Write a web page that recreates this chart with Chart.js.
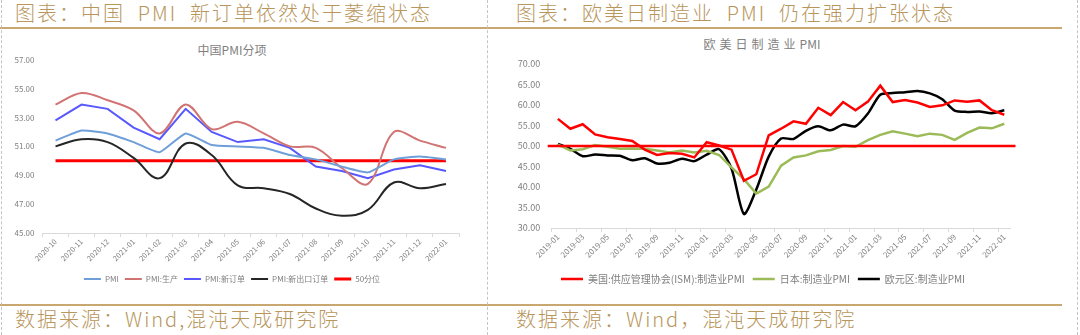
<!DOCTYPE html>
<html>
<head>
<meta charset="utf-8">
<script src="https://cdn.jsdelivr.net/npm/chart.js@4.4.0/dist/chart.umd.min.js"></script>
<style>
  body { margin: 0; width: 1080px; height: 335px; background: #fff; position: relative; overflow: hidden;
         font-family: "Noto Sans CJK SC", sans-serif; }
  .hd { position: absolute; color: #B8965C; font-size: 20px; line-height: 26px; letter-spacing: 2px;
        white-space: pre; font-weight: 300; }
  .gold { position: absolute; left: 0; width: 1062px; height: 2px; background: #C9A771; }
  .dash { position: absolute; top: 0; height: 335px; border-left: 1px dashed #C4C4C4; }
  .ttl { position: absolute; color: #7F7F7F; font-size: 12px; line-height: 14px; white-space: nowrap;
         transform: translate(-50%, -50%); }
  .box { position: absolute; top: 47px; }
</style>
</head>
<body>
<div class="hd" style="left:15px;top:0">图表：中国  PMI  新订单依然处于萎缩状态</div>
<div class="hd" style="left:516px;top:0">图表：欧美日制造业  PMI  仍在强力扩张状态</div>
<div class="gold" style="top:27px"></div>
<div class="gold" style="top:304px"></div>
<div class="hd" style="left:15px;top:306px">数据来源：Wind,混沌天成研究院</div>
<div class="hd" style="left:516px;top:306px">数据来源：Wind，混沌天成研究院</div>
<div class="dash" style="left:1px"></div>
<div class="dash" style="left:487px"></div>
<div class="dash" style="left:1077px"></div>
<div class="ttl" style="left:232px;top:50px">中国PMI分项</div>
<div class="ttl" style="left:762px;top:44px"><span style="letter-spacing:4px">欧美日制造业</span>PMI</div>

<div class="box" style="left:0;width:487px;height:246px"><canvas id="chartCn"></canvas></div>
<div class="box" style="left:487px;width:593px;height:247px"><canvas id="chartWorld"></canvas></div>

<script>
// 中国PMI分项
const cnMonths = ['2020-10', '2020-11', '2020-12', '2021-01', '2021-02', '2021-03', '2021-04', '2021-05',
                  '2021-06', '2021-07', '2021-08', '2021-09', '2021-10', '2021-11', '2021-12', '2022-01'];
const cnPmi      = [51.4, 52.1, 51.9, 51.3, 50.6, 51.9, 51.1, 51.0, 50.9, 50.4, 50.1, 49.6, 49.2, 50.1, 50.3, 50.1];
const cnProd     = [53.9, 54.7, 54.2, 53.5, 51.9, 53.9, 52.2, 52.7, 51.9, 51.0, 50.9, 49.5, 48.4, 52.0, 51.4, 50.9];
const cnNewOrder = [52.8, 53.9, 53.6, 52.3, 51.5, 53.6, 52.0, 51.3, 51.5, 50.9, 49.6, 49.3, 48.8, 49.4, 49.7, 49.3];
const cnExport   = [51.0, 51.5, 51.3, 50.2, 48.8, 51.2, 50.4, 48.3, 48.1, 47.7, 46.7, 46.2, 46.6, 48.5, 48.1, 48.4];
const cnLine50 = 50;

// 欧美日制造业PMI
const wMonths = ['2019-01', '2019-02', '2019-03', '2019-04', '2019-05', '2019-06', '2019-07', '2019-08', '2019-09',
                 '2019-10', '2019-11', '2019-12', '2020-01', '2020-02', '2020-03', '2020-04', '2020-05', '2020-06',
                 '2020-07', '2020-08', '2020-09', '2020-10', '2020-11', '2020-12', '2021-01', '2021-02', '2021-03',
                 '2021-04', '2021-05', '2021-06', '2021-07', '2021-08', '2021-09', '2021-10', '2021-11', '2021-12',
                 '2022-01'];
const usIsm = [56.6, 54.2, 55.3, 52.8, 52.1, 51.7, 51.2, 49.1, 47.8, 48.3, 48.1, 47.2, 50.9, 50.1, 49.1, 41.5, 43.1,
               52.6, 54.2, 56.0, 55.4, 59.3, 57.5, 60.7, 58.7, 60.8, 64.7, 60.7, 61.2, 60.6, 59.5, 59.9, 61.1, 60.8,
               61.1, 58.7, 57.6];
const jpPmi = [50.3, 48.9, 49.2, 50.2, 49.8, 49.3, 49.4, 49.3, 48.9, 48.4, 48.9, 48.4, 48.8, 47.8, 44.8, 41.9, 38.4,
               40.1, 45.2, 47.2, 47.7, 48.7, 49.0, 50.0, 49.8, 51.4, 52.7, 53.6, 53.0, 52.4, 53.0, 52.7, 51.5, 53.2,
               54.5, 54.3, 55.4];
const euPmi = [50.5, 49.3, 47.5, 47.9, 47.7, 47.6, 46.5, 47.0, 45.7, 45.9, 46.9, 46.3, 47.9, 49.2, 44.5, 33.4, 39.4,
               47.4, 51.8, 51.7, 53.7, 54.8, 53.8, 55.2, 54.8, 57.9, 62.5, 62.9, 63.1, 63.4, 62.8, 61.4, 58.6, 58.3,
               58.4, 58.0, 58.7];
const wLine50 = 50;

Chart.defaults.font.family = '"Noto Sans CJK SC", sans-serif';
Chart.defaults.color = '#7F7F7F';
Chart.defaults.animation = false;

const ctxCn = document.getElementById('chartCn').getContext('2d');
const chartCn = new Chart(ctxCn, {
    type: 'line',
    data: {
        labels: cnMonths,
        datasets: [
            { label: 'PMI', data: cnPmi, borderColor: '#6F9FD8', borderWidth: 2, tension: 0.15 },
            { label: 'PMI:生产', data: cnProd, borderColor: '#D27373', borderWidth: 2, tension: 0.35 },
            { label: 'PMI:新订单', data: cnNewOrder, borderColor: '#5858FF', borderWidth: 2, tension: 0 },
            { label: 'PMI:新出口订单', data: cnExport, borderColor: '#262626', borderWidth: 2, tension: 0.4 },
            { label: '50分位', data: cnMonths.map(() => cnLine50), borderColor: '#FF0000', borderWidth: 3 }
        ]
    },
    options: {
        responsive: true,
        maintainAspectRatio: false,
        layout: { autoPadding: false, padding: { left: 5, right: 28, top: 5.7, bottom: 0 } },
        elements: { point: { radius: 0 } },
        plugins: {
            title: { display: false },
            tooltip: { enabled: false },
            legend: {
                position: 'bottom',
                labels: { usePointStyle: true, pointStyle: 'line', pointStyleWidth: 17, boxHeight: 8,
                          font: { size: 8 }, padding: 6, color: '#7F7F7F' }
            }
        },
        scales: {
            x: {
                offset: true,
                grid: { display: true, drawOnChartArea: false, offset: true, tickLength: 4, color: '#D9D9D9' },
                border: { display: true, color: '#D9D9D9' },
                ticks: { autoSkip: false, maxRotation: 45, minRotation: 45, font: { size: 7.5 }, padding: 0 },
                afterFit: (scale) => { scale.height = 36; }
            },
            y: {
                min: 45, max: 57,
                grid: { display: false, drawTicks: false },
                border: { display: false },
                ticks: { stepSize: 2, padding: 8, font: { size: 8 }, callback: (v) => v.toFixed(2) },
                afterFit: (scale) => { scale.width = 37.5; }
            }
        }
    }
});

// 50荣枯线 on the world chart, drawn through the y scale
const line50 = {
    id: 'line50',
    afterDatasetsDraw(chart) {
        const { ctx, chartArea, scales } = chart;
        const y = scales.y.getPixelForValue(wLine50);
        ctx.save();
        ctx.strokeStyle = '#FF0000';
        ctx.lineWidth = 2.5;
        ctx.beginPath();
        ctx.moveTo(chartArea.left - 4, y);
        ctx.lineTo(chartArea.right + 5, y);
        ctx.stroke();
        ctx.restore();
    }
};

const ctxWorld = document.getElementById('chartWorld').getContext('2d');
const chartWorld = new Chart(ctxWorld, {
    type: 'line',
    data: {
        labels: wMonths,
        datasets: [
            { label: '美国:供应管理协会(ISM):制造业PMI', data: usIsm, borderColor: '#FF0000', borderWidth: 2.5, tension: 0 },
            { label: '日本:制造业PMI', data: jpPmi, borderColor: '#9BBB59', borderWidth: 2.5, tension: 0 },
            { label: '欧元区:制造业PMI', data: euPmi, borderColor: '#000000', borderWidth: 2.5, tension: 0.25 }
        ]
    },
    plugins: [line50],
    options: {
        responsive: true,
        maintainAspectRatio: false,
        layout: { autoPadding: false, padding: { left: 28.5, right: 69.5, top: 9, bottom: 0 } },
        elements: { point: { radius: 0 } },
        plugins: {
            title: { display: false },
            tooltip: { enabled: false },
            legend: {
                position: 'bottom',
                labels: { usePointStyle: true, pointStyle: 'line', pointStyleWidth: 22, boxHeight: 10,
                          font: { size: 10 }, padding: 8, color: '#7F7F7F' }
            }
        },
        scales: {
            x: {
                offset: true,
                grid: { display: true, drawOnChartArea: false, offset: true, tickLength: 4,
                        color: (c) => (c.index % 2 === 0 ? '#D9D9D9' : 'rgba(0,0,0,0)') },
                border: { display: true, color: '#D9D9D9' },
                ticks: { autoSkip: false, maxRotation: 45, minRotation: 45, font: { size: 8 }, padding: 0,
                         callback: (v, i) => (i % 2 === 0 ? wMonths[i] : '') },
                afterFit: (scale) => { scale.height = 38; }
            },
            y: {
                min: 30, max: 70,
                grid: { display: false, drawTicks: false },
                border: { display: false },
                ticks: { stepSize: 5, padding: 11.5, font: { size: 9 }, callback: (v) => v.toFixed(2) },
                afterFit: (scale) => { scale.width = 36.2; }
            }
        }
    }
});
</script>
</body>
</html>
